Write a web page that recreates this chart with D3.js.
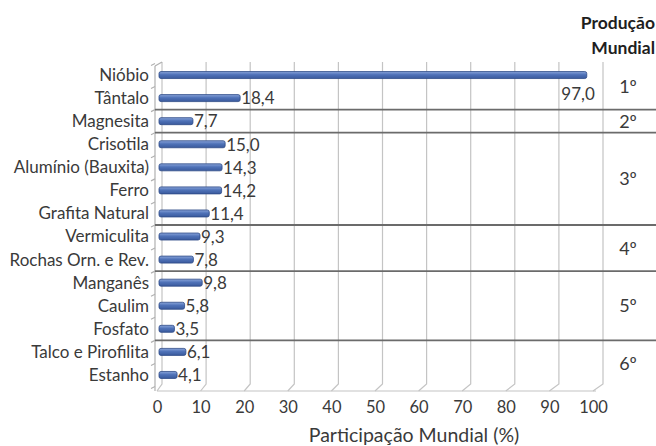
<!DOCTYPE html>
<html>
<head>
<meta charset="utf-8">
<script src="https://cdn.jsdelivr.net/npm/d3@7"></script>
<style>
  html, body { margin: 0; padding: 0; background: #fff; }
  svg { display: block; font-family: Lato, "Open Sans", sans-serif; }
</style>
</head>
<body>
<svg id="chart" width="656" height="446"></svg>
<script>
// Substâncias minerais e participação do Brasil na produção mundial (%)
const categories = [
  "Nióbio", "Tântalo", "Magnesita", "Crisotila", "Alumínio (Bauxita)", "Ferro",
  "Grafita Natural", "Vermiculita", "Rochas Orn. e Rev.", "Manganês", "Caulim",
  "Fosfato", "Talco e Pirofilita", "Estanho"
];
const values = [97.0, 18.4, 7.7, 15.0, 14.3, 14.2, 11.4, 9.3, 7.8, 9.8, 5.8, 3.5, 6.1, 4.1];
// posição do Brasil no ranking mundial e número de substâncias em cada posição
const rankLabels = ["1º", "2º", "3º", "4º", "5º", "6º"];
const rankSizes = [2, 1, 4, 2, 3, 2];
const xTicks = [0, 10, 20, 30, 40, 50, 60, 70, 80, 90, 100];
const xTitle = "Participação Mundial (%)";
const rankTitle = ["Produção", "Mundial"];

const svg = d3.select("#chart");
const textColor = "#3a3a3a";
const fontFamily = "Lato, 'Open Sans', sans-serif";

// back wall scale (bars and gridlines) and floor scale (tick labels)
const x = d3.scaleLinear().domain([0, 100]).range([159, 600]);
const xBack = d3.scaleLinear().domain([0, 100]).range([162, 603]);
const xFloor = d3.scaleLinear().domain([0, 100]).range([157, 593]);
const y = d3.scaleBand().domain(categories).range([63.5, 386.5]).paddingInner(0);
const step = y.step();
const yTop = 62, yBackBottom = 384, yFloor = 391;

// gradient for the 3-D looking bars
const defs = svg.append("defs");
const grad = defs.append("linearGradient").attr("id", "barGrad")
  .attr("x1", 0).attr("y1", 0).attr("x2", 0).attr("y2", 1);
grad.append("stop").attr("offset", "0%").attr("stop-color", "#8aa5da");
grad.append("stop").attr("offset", "45%").attr("stop-color", "#4f72b8");
grad.append("stop").attr("offset", "100%").attr("stop-color", "#3a5a9c");

// vertical gridlines on the back wall, with their feet on the floor
const grid = svg.append("g").attr("fill", "none").attr("stroke", "#c4c4c4").attr("stroke-width", 1.2);
grid.selectAll("path").data(xTicks).join("path")
  .attr("d", d => `M${xFloor(d)},${yFloor} L${xBack(d)},${yBackBottom} L${xBack(d)},${yTop}`);
// floor edge
svg.append("line")
  .attr("x1", xFloor(0)).attr("x2", xFloor(100) + 3)
  .attr("y1", yFloor).attr("y2", yFloor)
  .attr("stroke", "#c4c4c4").attr("stroke-width", 1.2);

// left wall: front edge, back edge and small tick marks at category boundaries
const wall = svg.append("g").attr("fill", "none").attr("stroke", "#b0b0b0").attr("stroke-width", 1.2);
wall.append("path").attr("d", `M155,${yTop + 4} L155,${yFloor}`);
wall.append("path").attr("d", `M155,${yTop + 4} L${xBack(0)},${yTop}`);
const bounds = d3.range(categories.length + 1).map(i => y.range()[0] + i * step);
wall.selectAll("path.tick").data(bounds).join("path").attr("class", "tick")
  .attr("d", d => `M151,${d + 2} L155,${d}`);

// separators between ranking groups
const groupEdges = [];
let acc = 0;
rankSizes.forEach((n, i) => {
  groupEdges.push({ start: acc, end: acc + n, label: rankLabels[i] });
  acc += n;
});
const sepYs = groupEdges.slice(1).map(g => y.range()[0] + g.start * step);
svg.append("g").selectAll("line").data(sepYs).join("line")
  .attr("x1", 155).attr("x2", 656)
  .attr("y1", d => d).attr("y2", d => d)
  .attr("stroke", "#6b6b6b").attr("stroke-width", 1.8);

// bars
const barH = 7;
svg.append("g").selectAll("rect").data(values).join("rect")
  .attr("x", x(0))
  .attr("y", (d, i) => y(categories[i]) + step / 2 - barH / 2)
  .attr("width", d => x(d) - x(0))
  .attr("height", barH)
  .attr("rx", 2)
  .attr("fill", "url(#barGrad)")
  .attr("stroke", "#2d4a86").attr("stroke-width", 0.8);

// value labels (comma as decimal separator); a label that would run past
// the plot is tucked underneath the end of its bar
const fmt = v => d3.format(".1f")(v).replace(".", ",");
const tooLong = d => x(d) + 40 > xBack(100);
svg.append("g").selectAll("text").data(values).join("text")
  .attr("x", d => tooLong(d) ? x(d) + 8 : x(d) + 1)
  .attr("y", (d, i) => y(categories[i]) + step / 2 + (tooLong(d) ? 21 : 2))
  .attr("text-anchor", d => tooLong(d) ? "end" : "start")
  .attr("dominant-baseline", "middle")
  .attr("font-size", 17).attr("fill", textColor)
  .text(fmt);

// category labels
const yAxis = d3.axisLeft(y).tickSize(0).tickPadding(0);
const gy = svg.append("g").attr("transform", "translate(149,0)").call(yAxis);
gy.select(".domain").remove();
gy.selectAll("text").attr("font-size", 17).attr("fill", textColor)
  .attr("font-family", fontFamily).attr("dy", "0.35em");

// x tick labels along the floor
const xAxis = d3.axisBottom(xFloor).tickValues(xTicks).tickSize(0).tickPadding(0);
const gx = svg.append("g").attr("transform", `translate(0,${yFloor + 10})`).call(xAxis);
gx.select(".domain").remove();
gx.selectAll("text").attr("font-size", 16.5).attr("fill", textColor)
  .attr("font-family", fontFamily);

// x axis title
svg.append("text")
  .attr("x", 414).attr("y", 437)
  .attr("text-anchor", "middle").attr("dominant-baseline", "middle")
  .attr("font-size", 19.5).attr("fill", textColor)
  .text(xTitle);

// ranking column
svg.append("g").selectAll("text").data(groupEdges).join("text")
  .attr("x", 628)
  .attr("y", g => y.range()[0] + (g.start + g.end) / 2 * step + 2)
  .attr("text-anchor", "middle").attr("dominant-baseline", "middle")
  .attr("font-size", 18).attr("fill", textColor)
  .text(g => g.label);

svg.append("g").selectAll("text").data(rankTitle).join("text")
  .attr("x", 655).attr("y", (d, i) => 25 + i * 25)
  .attr("text-anchor", "end").attr("dominant-baseline", "middle")
  .attr("font-size", 17.5).attr("font-weight", "bold").attr("fill", "#1e1e1e")
  .text(d => d);
</script>
</body>
</html>
